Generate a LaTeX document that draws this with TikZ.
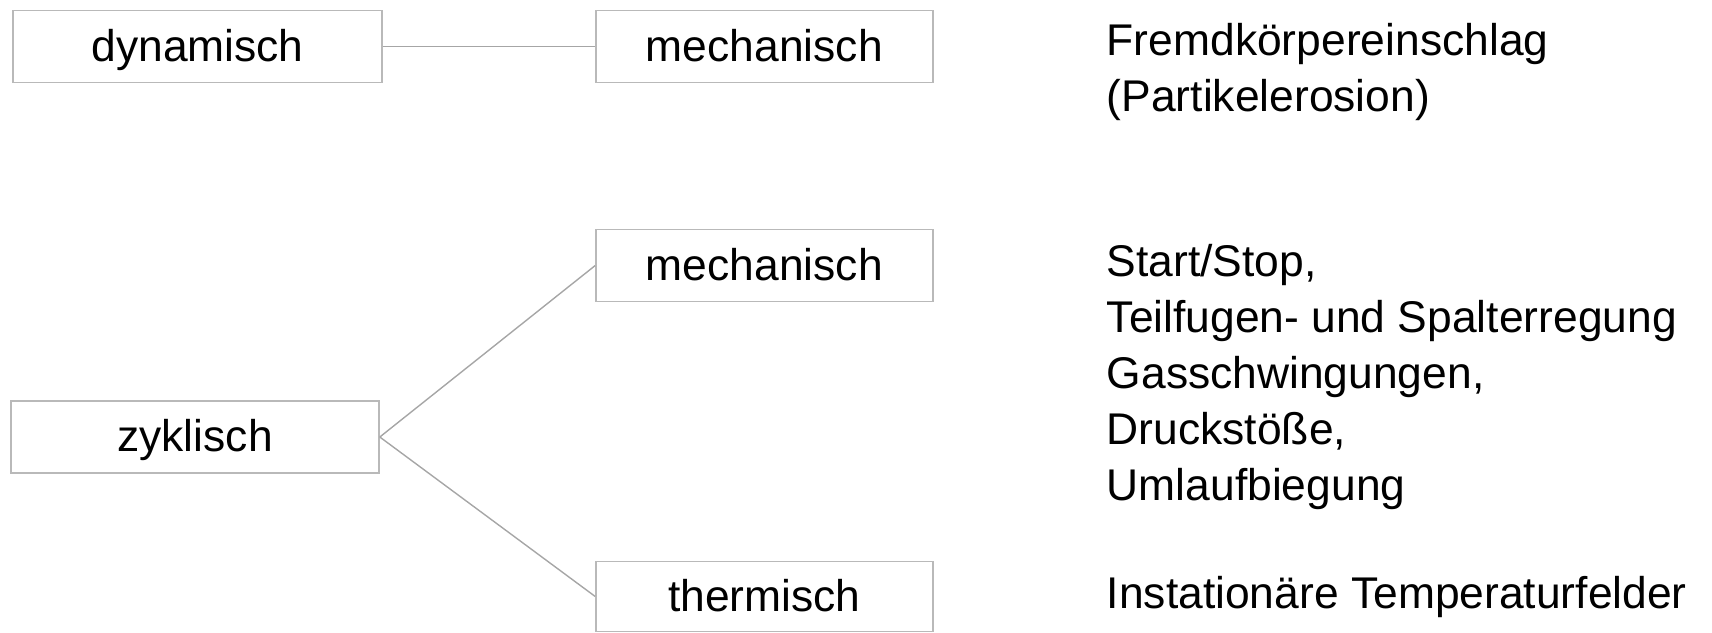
\documentclass[tikz,border=0pt]{standalone}
\usepackage{fontspec}
\setmainfont{Liberation Sans}
\usetikzlibrary{positioning}

\begin{document}
\begin{tikzpicture}[
    font=\fontsize{11.1}{14}\selectfont,
    kind/.style={
		rectangle,
		draw=gray!55,
		line width=0.4pt,
		text centered,
		text height=8.9pt,
		text depth=1.5pt,
		minimum height=18pt,
		fill=white
	},
	load/.style={
		kind,
		minimum width=84.25pt
	},
	cause/.style={
		align=left,
		anchor=west,
		inner sep=0pt
	},
	link/.style={
		draw=gray!70,
		line width=0.35pt
	}
  ]
 \useasboundingbox (0pt,0pt) rectangle (428pt,-158pt);

% // left column
 \node [kind, minimum width=92.25pt] (dynamisch) at (49.4pt,-11.6pt) {dynamisch};
 \node [kind, minimum width=92pt] (zyklisch) at (48.75pt,-109.25pt) {zyklisch};

% // middle column
 \node [load] (mech1) at (191.1pt,-11.6pt) {mechanisch};
 \node [load] (mech2) at (191.1pt,-66.4pt) {mechanisch};
 \node [load, minimum height=17.5pt] (therm) at (191.1pt,-149.1pt) {thermisch};

 \draw [link] (dynamisch.east) -- (mech1.west);
 \draw [link] (zyklisch.east) -- (mech2.west);
 \draw [link] (zyklisch.east) -- (therm.west);

% // examples
 \node [cause] (fremd) at (276.5pt,-18pt)
 {Fremdkörpereinschlag\\(Partikelerosion)};
 \node [cause] (start) at (276.5pt,-94.25pt)
 {Start/Stop,\\Teilfugen- und Spalterregung\\Gasschwingungen,\\Druckstöße,\\Umlaufbiegung};
 \node [cause] (temp) at (276.5pt,-149.25pt) {Instationäre Temperaturfelder};

\end{tikzpicture}
\end{document}
